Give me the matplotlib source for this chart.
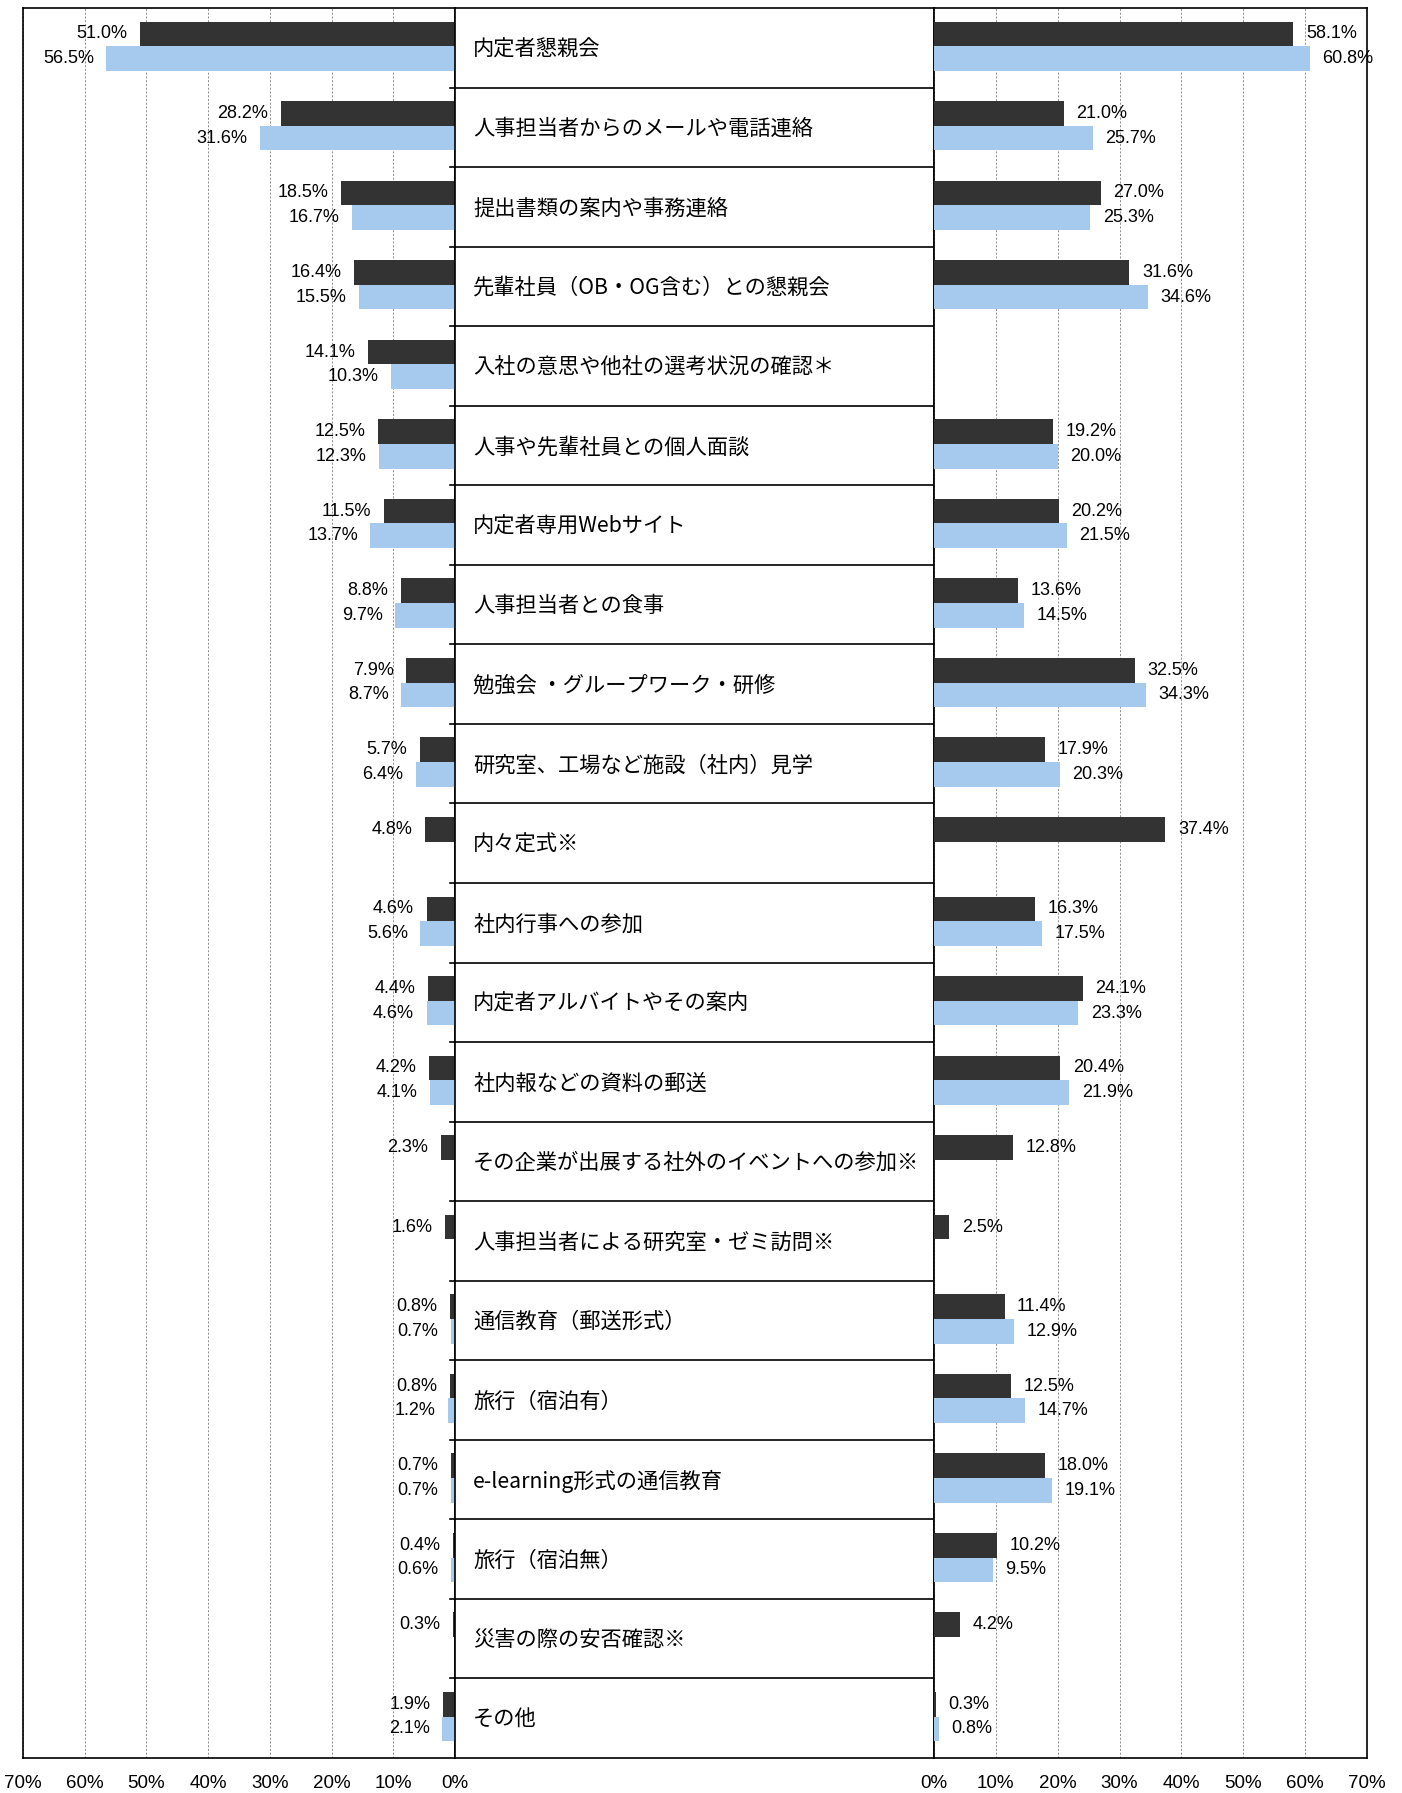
import numpy as np
import matplotlib as mpl

# 非対話バックエンド
mpl.use("Agg")

import matplotlib.pyplot as plt
import matplotlib.ticker as ticker

# ================================
# 0. フォント設定
# ================================
plt.rcParams["font.family"] = ["Noto Sans CJK JP", "DejaVu Sans"]
plt.rcParams["axes.unicode_minus"] = False
NUM_FONT = ["Liberation Sans", "DejaVu Sans"]

# ================================
# 1. データ
# ================================
categories = [
    "内定者懇親会",
    "人事担当者からのメールや電話連絡",
    "提出書類の案内や事務連絡",
    "先輩社員（OB・OG含む）との懇親会",
    "入社の意思や他社の選考状況の確認＊",
    "人事や先輩社員との個人面談",
    "内定者専用Webサイト",
    "人事担当者との食事",
    "勉強会 ・グループワーク・研修",
    "研究室、工場など施設（社内）見学",
    "内々定式※",
    "社内行事への参加",
    "内定者アルバイトやその案内",
    "社内報などの資料の郵送",
    "その企業が出展する社外のイベントへの参加※",
    "人事担当者による研究室・ゼミ訪問※",
    "通信教育（郵送形式）",
    "旅行（宿泊有）",
    "e-learning形式の通信教育",
    "旅行（宿泊無）",
    "災害の際の安否確認※",
    "その他",
]
nan = np.nan
left_dark = [51.0, 28.2, 18.5, 16.4, 14.1, 12.5, 11.5, 8.8, 7.9, 5.7, 4.8,
             4.6, 4.4, 4.2, 2.3, 1.6, 0.8, 0.8, 0.7, 0.4, 0.3, 1.9]
left_blue = [56.5, 31.6, 16.7, 15.5, 10.3, 12.3, 13.7, 9.7, 8.7, 6.4, nan,
             5.6, 4.6, 4.1, nan, nan, 0.7, 1.2, 0.7, 0.6, nan, 2.1]
right_dark = [58.1, 21.0, 27.0, 31.6, nan, 19.2, 20.2, 13.6, 32.5, 17.9, 37.4,
              16.3, 24.1, 20.4, 12.8, 2.5, 11.4, 12.5, 18.0, 10.2, 4.2, 0.3]
right_blue = [60.8, 25.7, 25.3, 34.6, nan, 20.0, 21.5, 14.5, 34.3, 20.3, nan,
              17.5, 23.3, 21.9, nan, nan, 12.9, 14.7, 19.1, 9.5, nan, 0.8]
x_ticks = [0, 10, 20, 30, 40, 50, 60, 70]

# ================================
# 2. レイアウト
# ================================
W, H = 1402, 1793
DARK = "#333333"
BLUE = "#A6C9EE"
BAR_H = 0.31
LINE_W = 1.2


def px_rect(x0, y0, x1, y1):
    return [x0 / W, 1 - y1 / H, (x1 - x0) / W, (y1 - y0) / H]


fig = plt.figure(figsize=(W / 100, H / 100), dpi=100)
ax_l = fig.add_axes(px_rect(23, 8, 455, 1758))
ax_m = fig.add_axes(px_rect(455, 8, 934, 1758))
ax_r = fig.add_axes(px_rect(934, 8, 1367, 1758))

n = len(categories)
rows = np.arange(n)
y_dark = rows + 0.17 + BAR_H / 2
y_blue = rows + 0.17 + BAR_H * 1.5


def draw_side(ax, dark_vals, blue_vals, side):
    sign = -1 if side == "left" else 1
    ha = "right" if side == "left" else "left"
    for vals, ys, col in [(dark_vals, y_dark, DARK), (blue_vals, y_blue, BLUE)]:
        vals = np.asarray(vals, dtype=float)
        ok = ~np.isnan(vals)
        ax.barh(ys[ok], vals[ok], height=BAR_H, color=col, edgecolor="none", zorder=3)
        for v, yy in zip(vals[ok], ys[ok]):
            ax.annotate(f"{v:.1f}%", xy=(v, yy), xytext=(sign * 9, 0),
                        textcoords="offset points", ha=ha, va="center",
                        fontsize=13, family=NUM_FONT, zorder=4)
    ax.set_xlim((70, 0) if side == "left" else (0, 70))
    ax.set_ylim(n, 0)
    ax.set_yticks([])
    ax.set_xticks(x_ticks)
    ax.xaxis.set_major_formatter(ticker.PercentFormatter(decimals=0))
    ax.tick_params(axis="x", length=0, pad=12, labelsize=13.5)
    for label in ax.get_xticklabels():
        label.set_family(NUM_FONT)
    ax.grid(axis="x", color="#7f7f7f", lw=0.6, linestyle=(0, (2.5, 2)))
    ax.set_axisbelow(True)
    for sp in ax.spines.values():
        sp.set_linewidth(LINE_W)


draw_side(ax_l, left_dark, left_blue, "left")
draw_side(ax_r, right_dark, right_blue, "right")

# 中央の項目名パネル
ax_m.set_xlim(0, 1)
ax_m.set_ylim(n, 0)
ax_m.set_xticks([])
ax_m.set_yticks([])
for sp in ax_m.spines.values():
    sp.set_linewidth(LINE_W)
for i, cat in enumerate(categories):
    ax_m.text(0.038, i + 0.52, cat, ha="left", va="center", fontsize=15.3)
for i in range(1, n):
    ax_m.plot([-0.0104, 1.031], [i, i], color="black", lw=LINE_W,
              transform=ax_m.get_yaxis_transform(), clip_on=False, zorder=5)

fig.savefig("out.png", dpi=100)
plt.close(fig)
